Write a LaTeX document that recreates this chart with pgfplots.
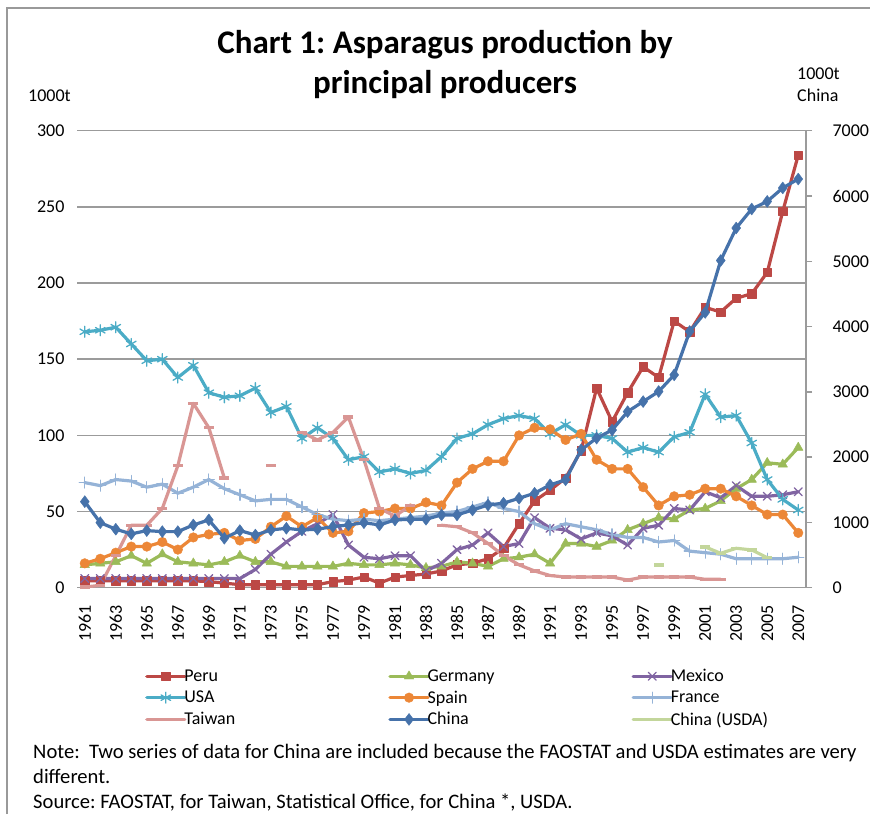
\documentclass[border=0pt]{standalone}
\usepackage{fontspec}
\setmainfont{Carlito}
\usepackage{pgfplots}
\usepackage{pgfplotstable}
\pgfplotsset{compat=1.18}
\frenchspacing
\definecolor{cPeru}{RGB}{188,72,69}
\definecolor{cGer}{RGB}{155,187,89}
\definecolor{cMex}{RGB}{128,100,162}
\definecolor{cUSA}{RGB}{75,172,198}
\definecolor{cSpa}{RGB}{236,135,55}
\definecolor{cFra}{RGB}{149,179,215}
\definecolor{cTai}{RGB}{217,150,148}
\definecolor{cChi}{RGB}{70,114,170}
\definecolor{cUsda}{RGB}{195,214,155}
\definecolor{gridgray}{RGB}{155,155,155}

\pgfplotstableread{
year peru germany mexico usa spain france taiwan china usda
1961 4.5 15 6 168 16 69 0.5 1318 nan
1962 4.5 16 6 169 19 67 1.5 996 nan
1963 4.5 17 6 171 23 71 21 896 nan
1964 4.5 21 6 160 27 70 41 824 nan
1965 4.5 16 6 149 27 66 41 875 nan
1966 4.5 22 6 150 30 68 52 859 nan
1967 4.5 17 6 138 25 62 80 859 nan
1968 4.5 16 6 146 33 66 121 961 nan
1969 4 15 6 128 35 71 105 1038 nan
1970 3 17 6 125 36 65 72 758 nan
1971 2 21 6 126 31 61 nan 875 nan
1972 2 17 12 131 32 57 nan 807 nan
1973 2 17 22 115 40 58 80 884 nan
1974 2 14 30 119 47 58 nan 910 nan
1975 2 14 37 98 40 53 102 884 nan
1976 2 14 42 105 46 48 97 896 nan
1977 4 14 48 98 36 45 102 936 nan
1978 5 16 28 84 37 44 112 961 nan
1979 7 15 20 86 49 45 84 996 nan
1980 3 15 19 76 50 44 52 961 nan
1981 7 16 21 78 52 45 47 1038 nan
1982 8 15 21 75 52 46 54 1048 nan
1983 9 13 11 77 56 47 nan 1048 nan
1984 11 14 16 86 54 49 41 1115 nan
1985 15 17 25 98 69 50 40 1115 nan
1986 16 16 28 101 78 53 36 1190 nan
1987 19 14 36 107 83 56 29 1267 nan
1988 26 19 27 111 83 52 21 1295 nan
1989 42 20 29 113 100 50 15 1370 nan
1990 57 22 46 111 105 42 11 1447 nan
1991 64 16 39 101 104 38 8 1575 nan
1992 72 29 38 107 97 42 7 1652 nan
1993 90 29 32 100 101 40 7 2112 nan
1994 131 27 36 100 84 38 7 2291 nan
1995 109 31 34 98 78 35 7 2415 nan
1996 128 38 28 89 78 33 5 2697 nan
1997 145 42 39 92 66 33 7 2851 nan
1998 138 46 41 89 54 30 7 3005 348
1999 175 45 52 99 60 31 7 3260 nan
2000 168 51 51 102 61 24 7 3925 nan
2001 184 52 63 127 65 23 5.5 4216 625
2002 181 57 59 112 65 22 5.5 5012 527
2003 190 65 67 113 60 19 nan 5509 604
2004 193 71 60 95 54 19 nan 5801 579
2005 207 82 60 71 48 19 nan 5917 460
2006 247 81 61 58 48 19 nan 6123 nan
2007 284 92 63 51 36 20 nan 6260 nan
}\data

\pgfplotsset{
  lw/.style={line width=3.2pt, line join=round, line cap=round},
  sPeru/.style={lw, color=cPeru, mark=square*, mark size=4.2pt, mark options={solid, line width=0.4pt}},
  sGer/.style={lw, color=cGer, mark=triangle*, mark size=5.5pt, mark options={solid, line width=0.4pt}},
  sMex/.style={lw, color=cMex, mark=x, mark size=5.5pt, mark options={solid, line width=1.3pt}},
  sUSA/.style={lw, color=cUSA, mark=asterisk, mark size=5.5pt, mark options={solid, line width=1.3pt}},
  sSpa/.style={lw, color=cSpa, mark=*, mark size=4.8pt, mark options={solid, line width=0.4pt}},
  sFra/.style={lw, color=cFra, mark=+, mark size=5.5pt, mark options={solid, line width=1.3pt}},
  sTai/.style={lw, color=cTai, mark=-, mark size=5pt, mark options={solid, line width=3.2pt, line cap=butt}},
  sChi/.style={lw, color=cChi, mark=diamond*, mark size=6pt, mark options={solid, line width=0.4pt}},
  sUsda/.style={lw, color=cUsda, mark=-, mark size=5pt, mark options={solid, line width=3.2pt, line cap=butt}},
  common/.style={
    at={(77pt,-587.7pt)}, anchor=south west, scale only axis,
    width=729pt, height=457pt,
    xmin=1960.5, xmax=2007.5,
    unbounded coords=jump,
    tick label style={font=\fontsize{18}{20}\selectfont},
    /pgf/number format/assume math mode=true,
    /pgf/number format/1000 sep={},
  },
}

\begin{document}
\begin{tikzpicture}[x=1pt,y=1pt]
\useasboundingbox (0,0) rectangle (870,-814);
\draw[color=gray!80, line width=1.2pt] (7,-814) -- (7,-8) -- (870,-8);
\node[anchor=base, font=\fontsize{33}{40}\selectfont\bfseries] at (445,-53) {Chart 1: Asparagus production by};
\node[anchor=base, font=\fontsize{33}{40}\selectfont\bfseries] at (445,-93) {principal producers};
\node[anchor=base west, inner sep=0pt, font=\fontsize{18}{20}\selectfont] at (28,-101.7) {1000t};
\node[anchor=base west, inner sep=0pt, font=\fontsize{18}{20}\selectfont] at (797,-79) {1000t};
\node[anchor=base west, inner sep=0pt, font=\fontsize{18}{20}\selectfont] at (797,-101) {China};

\begin{axis}[common,
  ymin=0, ymax=300, ytick={0,50,...,300},
  axis lines*=left, y axis line style={draw=none},
  x axis line style={color=gridgray, line width=1.5pt},
  ymajorgrids, major grid style={color=gridgray, line width=1.5pt},
  major tick length=0pt,
  xtick={1961,1963,...,2007},
  xticklabel style={rotate=90, anchor=east, xshift=-14pt},
  yticklabel style={anchor=east, xshift=-9pt},
]
\addplot[sPeru] table[x=year, y=peru] {\data};
\addplot[sGer] table[x=year, y=germany] {\data};
\addplot[sMex] table[x=year, y=mexico] {\data};
\addplot[sUSA] table[x=year, y=usa] {\data};
\addplot[sSpa] table[x=year, y=spain] {\data};
\addplot[sFra] table[x=year, y=france] {\data};
\addplot[sTai] table[x=year, y=taiwan] {\data};
\end{axis}

\begin{axis}[common,
  ymin=0, ymax=7000, ytick={0,1000,...,7000},
  axis x line=none, xtick=\empty,
  axis y line*=right,
  y axis line style={color=gridgray, line width=1.5pt},
  ytick style={color=gridgray, line width=1.5pt},
  tick align=outside, major tick length=6pt,
  yticklabel style={anchor=west, xshift=17pt},
  legend columns=3,
  legend cell align=left,
  legend image code/.code={\draw[mark repeat=2, mark phase=2] plot coordinates {(0pt,0pt) (19pt,0pt) (38pt,0pt)};},
  legend style={at={(0.0933,-0.176)}, anchor=north west, draw=none, fill=none,
    font=\fontsize{18}{20}\selectfont, inner sep=0pt, row sep=5.5pt,
    nodes={inner sep=1pt},
    /tikz/every even column/.append style={column sep=8pt}},
]
\addlegendimage{sPeru}\addlegendentry{\hspace*{-3pt}\makebox[195pt][l]{Peru}}
\addlegendimage{sGer}\addlegendentry{\hspace*{-3pt}\makebox[195pt][l]{Germany}}
\addlegendimage{sMex}\addlegendentry{\hspace*{-3pt}\makebox[195pt][l]{Mexico}}
\addlegendimage{sUSA}\addlegendentry{\hspace*{-3pt}\makebox[195pt][l]{USA}}
\addlegendimage{sSpa}\addlegendentry{\hspace*{-3pt}\makebox[195pt][l]{Spain}}
\addlegendimage{sFra}\addlegendentry{\hspace*{-3pt}\makebox[195pt][l]{France}}
\addlegendimage{sTai}\addlegendentry{\hspace*{-3pt}\makebox[195pt][l]{Taiwan}}
\addplot[sChi] table[x=year, y=china] {\data};
\addlegendentry{\hspace*{-3pt}\makebox[195pt][l]{China}}
\addplot[sUsda] table[x=year, y=usda] {\data};
\addlegendentry{\hspace*{-3pt}\makebox[195pt][l]{China (USDA)}}
\end{axis}

\node[anchor=base west, inner sep=0pt, font=\fontsize{20.6}{25}\selectfont] at (33,-758) {Note:\ \ Two series of data for China are included because the FAOSTAT and USDA estimates are very};
\node[anchor=base west, inner sep=0pt, font=\fontsize{20.6}{25}\selectfont] at (33,-783) {different.};
\node[anchor=base west, inner sep=0pt, font=\fontsize{20.6}{25}\selectfont] at (33,-808) {Source: FAOSTAT, for Taiwan, Statistical Office, for China *, USDA.};
\end{tikzpicture}
\end{document}
